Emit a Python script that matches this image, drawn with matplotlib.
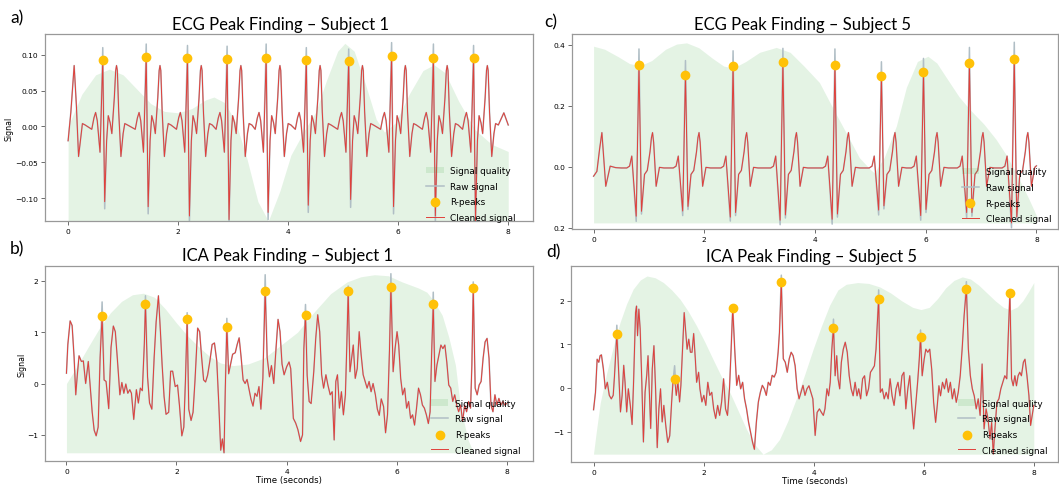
import numpy as np
import matplotlib.pyplot as plt

RAW = '#B0BEC5'
CLEAN = '#E0403A'
PEAK = '#FFC107'
QUAL = '#4CAF50'

# ---------------- panel a: ECG, subject 1 ----------------
a_peak_t = [0.63, 1.42, 2.17, 2.89, 3.60, 4.33, 5.10, 5.88, 6.64, 7.37]
a_peak_clean = [0.0926, 0.0972, 0.0949, 0.0935, 0.0958, 0.0926, 0.0907, 0.0986, 0.0958, 0.0949]
a_peak_raw = [0.110, 0.115, 0.113, 0.112, 0.115, 0.110, 0.108, 0.117, 0.115, 0.113]
a_s_clean = [-0.105, -0.112, -0.125, -0.130, -0.120, -0.110, -0.102, -0.112, -0.125, -0.132]
a_s_raw = [-0.115, -0.122, -0.133, -0.136, -0.130, -0.120, -0.113, -0.122, -0.134, -0.136]
# one beat, seconds relative to the R-peak (None = per-beat value)
a_beat_dt = [-0.20, -0.16, -0.13, -0.10, -0.05, 0.0, 0.035, 0.07, 0.10, 0.135, 0.165,
             0.21, 0.235, 0.25, 0.265, 0.29, 0.33, 0.37, 0.40, 0.45]
a_beat_v = [-0.004, 0.012, 0.0195, 0.008, -0.036, None, None, -0.02, 0.015, 0.005, -0.010,
            0.040, 0.078, 0.085, 0.078, 0.02, -0.042, -0.01, 0.004, 0.002]
a_head_t = [0.0, 0.05, 0.11, 0.15, 0.19, 0.26, 0.31]
a_head_v = [-0.02, 0.02, 0.085, 0.03, -0.042, 0.004, 0.002]
a_tail_t = [7.92, 8.0]
a_tail_v = [0.019, 0.002]
a_qual_t = [0.0, 0.25, 0.5, 0.75, 1.0, 1.25, 1.5, 1.75, 2.0, 2.25, 2.5, 2.65, 2.85, 3.05,
            3.25, 3.45, 3.64, 3.85, 4.05, 4.3, 4.5, 4.7, 4.9, 5.03, 5.2, 5.4, 5.6, 5.75,
            5.95, 6.2, 6.45, 6.65, 6.85, 7.1, 7.4, 7.7, 8.0]
a_qual_v = [0.0, 0.045, 0.072, 0.080, 0.072, 0.052, 0.032, 0.021, 0.019, 0.025, 0.037, 0.041,
            0.033, 0.005, -0.045, -0.105, -0.132, -0.09, -0.04, -0.005, 0.02, 0.065, 0.105,
            0.116, 0.105, 0.06, 0.01, -0.008, 0.005, 0.045, 0.078, 0.086, 0.075, 0.035,
            -0.005, -0.025, -0.035]

# ---------------- panel c: ECG, subject 5 ----------------
c_peak_t = [0.82, 1.66, 2.52, 3.42, 4.36, 5.20, 5.96, 6.79, 7.60]
c_peak_clean = [0.335, 0.300, 0.331, 0.342, 0.335, 0.298, 0.309, 0.340, 0.353]
c_peak_raw = [0.386, 0.348, 0.380, 0.388, 0.386, 0.344, 0.355, 0.391, 0.408]
c_q_clean = [-0.162, -0.145, -0.165, -0.175, -0.172, -0.142, -0.160, -0.150, -0.184]
c_q_raw = [-0.179, -0.160, -0.178, -0.190, -0.188, -0.158, -0.175, -0.168, -0.200]
c_s_clean = [-0.146, -0.130, -0.150, -0.158, -0.155, -0.128, -0.140, -0.150, -0.165]
c_s_raw = [-0.155, -0.140, -0.160, -0.168, -0.165, -0.138, -0.150, -0.162, -0.178]
c_beat_dt = [-0.22, -0.17, -0.13, -0.05, 0.0, 0.045, 0.10, 0.15, 0.20, 0.225, 0.245,
             0.265, 0.31, 0.37, 0.45]
c_beat_v = [-0.004, 0.002, 0.035, None, None, None, -0.025, -0.012, 0.05, 0.095, 0.112,
            0.08, -0.064, -0.002, -0.004]
c_head_t = [0.0, 0.06, 0.11, 0.15, 0.22, 0.30, 0.40, 0.5]
c_head_v = [-0.031, -0.015, 0.06, 0.112, -0.064, 0.002, -0.003, -0.004]
c_tail_t = [8.0]
c_tail_v = [0.003]
c_qual_t = [0.0, 0.2, 0.45, 0.65, 0.84, 1.05, 1.3, 1.5, 1.68, 1.9, 2.15, 2.35, 2.52, 2.75,
            3.0, 3.3, 3.55, 3.8, 4.08, 4.3, 4.56, 4.8, 5.0, 5.07, 5.25, 5.47, 5.65, 5.85,
            6.04, 6.2, 6.37, 6.6, 6.79, 7.05, 7.27, 7.45, 7.63, 7.85, 8.0]
c_qual_v = [0.395, 0.385, 0.36, 0.338, 0.331, 0.348, 0.385, 0.402, 0.406, 0.39, 0.355, 0.33,
            0.323, 0.345, 0.375, 0.391, 0.375, 0.33, 0.276, 0.2, 0.112, 0.03, -0.009, -0.02,
            0.03, 0.134, 0.26, 0.345, 0.362, 0.34, 0.293, 0.23, 0.189, 0.14, 0.09, 0.04,
            -0.02, -0.1, -0.16]

# ---------------- panel b: ICA, subject 1 ----------------
b_t = [0.00, 0.025, 0.067, 0.103, 0.139, 0.169, 0.199, 0.229, 0.271, 0.307, 0.349, 0.397,
       0.432, 0.468, 0.504, 0.540, 0.576, 0.612, 0.648, 0.684, 0.720, 0.768, 0.810, 0.852,
       0.888, 0.923, 0.971, 1.007, 1.043, 1.079, 1.115, 1.151, 1.181, 1.223, 1.271, 1.307,
       1.343, 1.379, 1.415, 1.436, 1.474, 1.510, 1.552, 1.594, 1.630, 1.672, 1.708, 1.738,
       1.774, 1.810, 1.858, 1.894, 1.930, 1.977, 2.019, 2.055, 2.097, 2.133, 2.163, 2.194,
       2.223, 2.265, 2.301, 2.337, 2.385, 2.421, 2.457, 2.493, 2.529, 2.565, 2.607, 2.648,
       2.690, 2.732, 2.768, 2.804, 2.834, 2.864, 2.888, 2.915, 2.948, 2.984, 3.020, 3.068,
       3.103, 3.139, 3.175, 3.211, 3.247, 3.283, 3.319, 3.355, 3.391, 3.427, 3.463, 3.499,
       3.534, 3.570, 3.612, 3.648, 3.690, 3.726, 3.768, 3.810, 3.846, 3.882, 3.918, 3.956,
       4.004, 4.046, 4.076, 4.124, 4.166, 4.207, 4.255, 4.291, 4.315, 4.345, 4.375, 4.411,
       4.447, 4.495, 4.531, 4.567, 4.603, 4.638, 4.674, 4.716, 4.752, 4.794, 4.830, 4.866,
       4.896, 4.926, 4.962, 4.998, 5.034, 5.070, 5.094, 5.121, 5.153, 5.183, 5.213, 5.249,
       5.285, 5.321, 5.357, 5.393, 5.429, 5.465, 5.501, 5.537, 5.573, 5.615, 5.651, 5.686,
       5.722, 5.764, 5.800, 5.836, 5.872, 5.897, 5.938, 5.973, 6.009, 6.039, 6.075, 6.111,
       6.147, 6.183, 6.219, 6.255, 6.291, 6.327, 6.363, 6.399, 6.435, 6.470, 6.506, 6.542,
       6.578, 6.610, 6.640, 6.667, 6.698, 6.734, 6.770, 6.806, 6.842, 6.878, 6.913, 6.949,
       6.985, 7.021, 7.057, 7.093, 7.129, 7.165, 7.201, 7.237, 7.273, 7.309, 7.345, 7.369,
       7.394, 7.429, 7.465, 7.501, 7.537, 7.573, 7.609, 7.645, 7.681, 7.716, 7.752, 7.788,
       7.824, 7.860, 7.896, 7.932, 7.968, 8.000]
b_v = [0.20, 0.76, 1.22, 1.13, 0.51, -0.22, 0.19, 0.54, 0.43, 0.44, 0.00, 0.43,
       -0.06, -0.56, -0.91, -1.02, -0.85, 0.51, 1.31, 0.07, 0.04, -0.49, 0.70, 1.12,
       1.01, 0.51, -0.22, 0.02, -0.19, -0.01, -0.19, -0.12, -0.19, -0.70, -0.12, -0.38,
       -0.09, -0.14, 0.76, 1.54, 0.13, -0.38, -0.50, 0.51, 1.20, 1.71, 1.01, 0.38,
       -0.25, -0.60, -0.56, 0.24, 0.24, -0.06, -0.03, -0.44, -1.02, -0.85, 0.07, 1.26,
       -0.50, -0.72, -0.56, 0.07, 1.08, 1.01, 0.51, 0.07, 0.03, 0.16, 0.44, 0.76,
       0.79, 0.44, -0.38, -1.30, -1.08, -1.35, -0.06, 1.10, 0.19, 0.38, 0.57, 0.60,
       0.76, 0.89, 0.51, 0.07, 0.00, 0.08, -0.12, -0.31, -0.44, -0.19, -0.25, -0.06,
       -0.50, 0.10, 1.80, 0.51, 0.13, 0.35, 0.00, 0.70, 1.25, 1.01, 0.38, 0.17,
       0.33, 0.42, 0.29, -0.68, -0.77, -0.90, -1.13, -1.00, 0.68, 1.33, 0.16, -0.35,
       -0.39, 0.23, 0.88, 1.34, 1.01, 0.17, -0.09, 0.17, -0.03, -0.22, -0.16, -1.10,
       0.04, 0.17, -0.48, -0.16, -0.61, -0.22, 0.68, 1.80, 0.23, 0.49, 0.75, 0.10,
       0.29, 1.01, 0.55, 0.17, 0.04, -0.09, 0.04, -0.16, 0.00, -0.22, -0.50, -0.62,
       -0.30, -0.45, -0.96, -0.60, 0.68, 1.88, 0.23, 0.68, 1.01, 0.75, 0.10, -0.22,
       -0.09, -0.48, -0.35, -0.68, -0.61, -0.81, -0.48, -0.09, -0.22, -0.42, -0.48, -0.61,
       -0.78, -0.55, 0.68, 1.54, 0.04, 0.36, 0.55, 0.75, 0.68, 0.75, 0.42, -0.03,
       -0.09, -0.35, -0.22, -0.42, -0.55, -0.42, -0.74, -0.42, -0.55, -0.35, -0.48, 0.36,
       1.86, -0.09, -0.22, -0.03, 0.04, 0.49, 0.81, 0.88, 0.49, -0.42, -0.55, -0.22,
       -0.42, -0.29, -0.42, -0.35, -0.42, -0.39]
b_peak_t = [0.648, 1.436, 2.194, 2.915, 3.612, 4.345, 5.121, 5.897, 6.667, 7.394]
b_peak_raw = [1.59, 1.71, 1.38, 1.27, 2.12, 1.54, 1.90, 2.14, 1.78, 1.98]
b_qual_t = [0.0, 0.2, 0.4, 0.6, 0.8, 1.0, 1.2, 1.4, 1.6, 1.8, 2.0, 2.2, 2.4, 2.6, 2.8, 3.03,
            3.3, 3.6, 3.9, 4.2, 4.5, 4.8, 5.1, 5.35, 5.6, 5.85, 6.1, 6.4, 6.55, 6.67, 6.83,
            6.95, 7.07, 7.16, 7.3, 7.4, 8.0]
b_qual_v = [0.0, 0.35, 0.72, 1.08, 1.38, 1.60, 1.73, 1.76, 1.68, 1.45, 1.18, 0.93, 0.72,
            0.53, 0.40, 0.35, 0.38, 0.50, 0.75, 1.0, 1.39, 1.75, 1.98, 2.08, 2.12, 2.10,
            1.98, 1.86, 1.78, 1.62, 1.33, 0.90, 0.36, -0.45, -1.10, -1.35, -1.35]

# ---------------- panel d: ICA, subject 5 ----------------
d_t = [0.000, 0.035, 0.065, 0.095, 0.119, 0.143, 0.178, 0.214, 0.250, 0.286, 0.322, 0.357,
       0.381, 0.423, 0.459, 0.489, 0.519, 0.548, 0.572, 0.602, 0.632, 0.668, 0.700, 0.727,
       0.763, 0.781, 0.799, 0.823, 0.847, 0.877, 0.906, 0.936, 0.966, 0.990, 1.014, 1.038,
       1.067, 1.097, 1.127, 1.157, 1.187, 1.217, 1.247, 1.277, 1.312, 1.348, 1.384, 1.419,
       1.443, 1.473, 1.503, 1.533, 1.563, 1.587, 1.617, 1.647, 1.676, 1.700, 1.730, 1.760,
       1.789, 1.819, 1.849, 1.873, 1.909, 1.933, 1.969, 2.004, 2.040, 2.076, 2.112, 2.148,
       2.183, 2.219, 2.255, 2.291, 2.327, 2.363, 2.398, 2.434, 2.470, 2.500, 2.529, 2.565,
       2.601, 2.637, 2.673, 2.709, 2.744, 2.780, 2.816, 2.852, 2.888, 2.923, 2.959, 2.995,
       3.031, 3.067, 3.103, 3.139, 3.175, 3.210, 3.246, 3.282, 3.318, 3.354, 3.378, 3.412,
       3.448, 3.484, 3.520, 3.556, 3.591, 3.627, 3.663, 3.699, 3.735, 3.770, 3.806, 3.842,
       3.878, 3.914, 3.950, 3.985, 4.027, 4.063, 4.104, 4.140, 4.176, 4.205, 4.241, 4.271,
       4.301, 4.330, 4.360, 4.390, 4.419, 4.443, 4.473, 4.503, 4.538, 4.574, 4.610, 4.646,
       4.681, 4.717, 4.753, 4.788, 4.818, 4.854, 4.889, 4.925, 4.961, 4.997, 5.032, 5.068,
       5.104, 5.133, 5.157, 5.181, 5.211, 5.247, 5.282, 5.318, 5.354, 5.389, 5.425, 5.461,
       5.497, 5.532, 5.568, 5.604, 5.639, 5.675, 5.711, 5.746, 5.782, 5.817, 5.853, 5.889,
       5.919, 5.942, 5.972, 6.008, 6.038, 6.073, 6.109, 6.145, 6.180, 6.216, 6.246, 6.276,
       6.305, 6.341, 6.377, 6.412, 6.448, 6.484, 6.520, 6.555, 6.591, 6.627, 6.663, 6.698,
       6.734, 6.775, 6.811, 6.847, 6.883, 6.918, 6.954, 6.990, 7.025, 7.061, 7.097, 7.133,
       7.168, 7.204, 7.234, 7.264, 7.294, 7.330, 7.366, 7.401, 7.437, 7.473, 7.509, 7.538,
       7.566, 7.596, 7.626, 7.656, 7.685, 7.715, 7.745, 7.775, 7.811, 7.840, 7.876, 7.912,
       7.942, 7.972, 8.000]
d_v = [-0.50, -0.10, 0.66, 0.59, 0.74, 0.76, 0.44, -0.02, 0.13, -0.17, -0.25, -0.17,
       0.29, 1.23, 0.29, -0.55, -0.17, 0.52, 0.13, -0.55, -0.02, -0.40, -0.84, 0.13,
       1.73, 1.88, 1.20, 1.81, 1.35, 0.13, -1.24, -0.10, 0.29, 0.74, -0.10, -0.93,
       0.44, 0.97, -0.02, -1.37, -0.48, -0.02, -0.78, -0.40, -0.86, -1.25, -1.10, -0.32,
       0.13, 0.20, -0.17, 0.13, -0.32, 0.06, 0.89, 1.73, 1.28, 0.89, 1.12, 0.82,
       0.82, 1.25, 0.67, 0.13, 0.36, -0.02, -0.32, -0.17, -0.40, 0.13, -0.17, -0.10,
       -0.48, -0.70, -0.40, -0.63, -0.32, 0.21, -0.48, -0.63, -0.02, 0.89, 1.84, 0.89,
       0.06, 0.29, -0.02, 0.13, -0.25, -0.48, -0.78, -1.01, -1.24, -1.41, -0.78, -0.32,
       -0.10, 0.06, -0.02, -0.17, 0.13, 0.06, 0.29, 0.25, 0.36, 0.82, 1.27, 2.44,
       0.67, 0.59, 0.36, 0.67, 0.82, 0.74, 0.51, -0.02, -0.25, -0.10, 0.06, -0.17,
       -0.02, 0.05, -0.10, -0.25, -1.09, -0.56, -0.48, -0.56, -0.63, -0.48, -0.02, -0.18,
       0.13, 0.89, 1.38, 0.28, 0.74, 0.21, -0.02, 0.59, 0.89, 1.05, 0.82, 0.28,
       -0.02, -0.18, 0.13, -0.18, -0.02, -0.25, 0.21, 0.28, -0.18, -0.02, 0.36, 0.43,
       0.51, 0.89, 1.50, 2.04, -0.10, -0.02, -0.25, -0.10, -0.25, 0.21, -0.18, -0.40,
       -0.02, 0.13, -0.18, 0.28, 0.36, -0.48, -0.02, 0.28, -0.40, -0.94, -0.40, 0.13,
       0.66, 1.16, 0.28, 0.66, 0.89, 0.82, 0.89, 0.43, -0.33, -0.79, -0.40, 0.05,
       -0.18, 0.13, -0.02, 0.21, -0.10, 0.13, -0.25, -0.02, -0.33, -0.10, 0.28, 0.89,
       1.66, 2.28, 0.89, 0.28, -0.02, -0.18, -0.48, -0.25, -0.63, 0.55, -0.94, -0.48,
       -0.71, -1.17, -0.79, -1.52, -0.94, -0.33, -0.25, -0.02, 0.13, 0.28, 0.21, 1.27,
       2.18, 0.21, 0.05, 0.28, 0.05, 0.28, 0.36, 0.28, 0.59, 0.66, 0.28, -0.18,
       -0.86, -0.63, -0.40]
d_peak_t = [0.423, 1.473, 2.529, 3.412, 4.360, 5.181, 5.942, 6.775, 7.566]
d_peak_raw = [1.44, 0.51, 1.89, 2.59, 1.58, 2.25, 1.33, 2.44, 2.23]
d_qual_t = [0.0, 0.05, 0.12, 0.24, 0.36, 0.48, 0.60, 0.72, 0.85, 0.97, 1.12, 1.27, 1.42,
            1.57, 1.72, 1.87, 2.02, 2.17, 2.32, 2.48, 2.63, 2.78, 2.93, 3.08, 3.23, 3.38,
            3.53, 3.68, 3.84, 3.99, 4.14, 4.29, 4.44, 4.59, 4.8, 5.0, 5.2, 5.4, 5.6, 5.8,
            5.95, 6.1, 6.25, 6.4, 6.55, 6.7, 6.85, 7.0, 7.15, 7.3, 7.45, 7.58, 7.7, 7.8,
            7.9, 8.0]
d_qual_v = [-1.50, -1.0, -0.35, 0.35, 0.95, 1.50, 1.93, 2.27, 2.48, 2.57, 2.53, 2.42, 2.25,
            2.04, 1.76, 1.43, 1.06, 0.66, 0.27, -0.11, -0.53, -0.95, -1.30, -1.52, -1.42,
            -1.18, -0.76, -0.26, 0.32, 0.89, 1.42, 1.90, 2.25, 2.38, 2.42, 2.40, 2.32, 2.18,
            2.0, 1.85, 1.80, 1.85, 2.05, 2.30, 2.47, 2.55, 2.50, 2.36, 2.18, 2.0, 1.85,
            1.79, 1.86, 2.0, 2.2, 2.42]


def ecg_trace(head_t, head_v, peak_t, beat_dt, beat_v, per_beat, tail_t, tail_v):
    # repeat the beat shape at every R-peak, filling the per-beat slots
    ts, vs = list(head_t), list(head_v)
    for i, t0 in enumerate(peak_t):
        for k, (d, v) in enumerate(zip(beat_dt, beat_v)):
            if k in per_beat:
                v = per_beat[k][i]
            if t0 + d < 8.0:
                ts.append(t0 + d)
                vs.append(v)
    return np.array(ts + tail_t), np.array(vs + tail_v)


a_t, a_clean = ecg_trace(a_head_t, a_head_v, a_peak_t, a_beat_dt, a_beat_v,
                         {5: a_peak_clean, 6: a_s_clean}, a_tail_t, a_tail_v)
_, a_raw = ecg_trace(a_head_t, a_head_v, a_peak_t, a_beat_dt, a_beat_v,
                     {5: a_peak_raw, 6: a_s_raw}, a_tail_t, a_tail_v)
c_t, c_clean = ecg_trace(c_head_t, c_head_v, c_peak_t, c_beat_dt, c_beat_v,
                         {3: c_q_clean, 4: c_peak_clean, 5: c_s_clean}, c_tail_t, c_tail_v)
_, c_raw = ecg_trace(c_head_t, c_head_v, c_peak_t, c_beat_dt, c_beat_v,
                     {3: c_q_raw, 4: c_peak_raw, 5: c_s_raw}, c_tail_t, c_tail_v)

b_clean = np.array(b_v)
b_raw = b_clean.copy()
b_idx = [b_t.index(p) for p in b_peak_t]
b_raw[b_idx] = b_peak_raw
d_clean = np.array(d_v)
d_raw = d_clean.copy()
d_idx = [d_t.index(p) for p in d_peak_t]
d_raw[d_idx] = d_peak_raw
a_idx = [list(a_t).index(p) for p in a_peak_t]
c_idx = [list(c_t).index(p) for p in c_peak_t]

fig = plt.figure(figsize=(10.59, 4.85), dpi=100)
W, H = 1059, 485


def add_axes(left, top, right, bottom):
    return fig.add_axes([left / W, 1 - bottom / H, (right - left) / W, (bottom - top) / H])


ax_a = add_axes(45, 35, 533, 222)
ax_b = add_axes(45, 267, 533, 462)
ax_c = add_axes(572, 35, 1058, 230)
ax_d = add_axes(571, 267, 1058, 463)


def draw(ax, t, clean, raw, idx, qual_t, qual_v, anchor):
    t = np.asarray(t)
    floor = clean.min()
    ax.fill_between(qual_t, floor, qual_v, color=QUAL, alpha=0.15, lw=0, zorder=0,
                    label='Signal quality')
    ax.plot(t, raw, color=RAW, lw=1.1, zorder=1, label='Raw signal')
    ax.scatter(t[idx], clean[idx], color=PEAK, s=36, zorder=4, label='R-peaks')
    ax.plot(t, clean, color=CLEAN, lw=0.7, zorder=3, label='Cleaned signal')
    ax.set_xticks([0, 2, 4, 6, 8])
    ax.tick_params(labelsize=5.4, length=3, width=0.6, color='#555555', pad=2)
    for s in ax.spines.values():
        s.set_color('#999999')
        s.set_linewidth(0.9)
    h, l = ax.get_legend_handles_labels()
    order = [l.index(n) for n in ['Signal quality', 'Raw signal', 'R-peaks', 'Cleaned signal']]
    ax.legend([h[i] for i in order], [l[i] for i in order], loc='lower right',
              bbox_to_anchor=anchor, frameon=False, fontsize=6.4, handlelength=2.0,
              borderaxespad=0, labelspacing=0.75, handletextpad=0.7)


draw(ax_a, a_t, a_clean, a_raw, a_idx, a_qual_t, a_qual_v, (0.972, -0.025))
draw(ax_b, b_t, b_clean, b_raw, b_idx, b_qual_t, b_qual_v, (0.981, 0.015))
draw(ax_c, c_t, c_clean, c_raw, c_idx, c_qual_t, c_qual_v, (0.993, 0.01))
draw(ax_d, d_t, d_clean, d_raw, d_idx, d_qual_t, d_qual_v, (0.985, 0.02))

ax_a.set_xlim(-0.42, 8.45)
ax_a.set_ylim(-0.132, 0.129)
ax_b.set_xlim(-0.39, 8.48)
ax_b.set_ylim(-1.51, 2.29)
ax_c.set_xlim(-0.39, 8.39)
ax_c.set_ylim(-0.204, 0.435)
ax_d.set_xlim(-0.41, 8.44)
ax_d.set_ylim(-1.70, 2.80)

ax_c.set_yticks([-0.2, 0.0, 0.2, 0.4])
ax_c.set_yticklabels(['0.2', '0.0', '0.2', '0.4'])
ax_b.set_yticks([-1, 0, 1, 2])
ax_d.set_yticks([-1, 0, 1, 2])

ax_a.set_ylabel('Signal', fontsize=5.6, labelpad=1)
ax_b.set_ylabel('Signal', fontsize=5.6, labelpad=0.5)
ax_b.set_xlabel('Time (seconds)', fontsize=6.2, labelpad=1)
ax_d.set_xlabel('Time (seconds)', fontsize=6.2, labelpad=1)

title_font = dict(family='Lato', fontsize=12, ha='center', va='center')
fig.text(281 / W, 1 - 25 / H, 'ECG Peak Finding – Subject 1', **title_font)
fig.text(802 / W, 1 - 25 / H, 'ECG Peak Finding – Subject 5', **title_font)
fig.text(288 / W, 1 - 256 / H, 'ICA Peak Finding – Subject 1', **title_font)
fig.text(812 / W, 1 - 257 / H, 'ICA Peak Finding – Subject 5', **title_font)

label_font = dict(family='Lato', fontsize=12.5, ha='center', va='center')
fig.text(17 / W, 1 - 18 / H, 'a)', **label_font)
fig.text(17 / W, 1 - 249 / H, 'b)', **label_font)
fig.text(551 / W, 1 - 22 / H, 'c)', **label_font)
fig.text(553 / W, 1 - 252 / H, 'd)', **label_font)

fig.savefig('out.png', dpi=100)
